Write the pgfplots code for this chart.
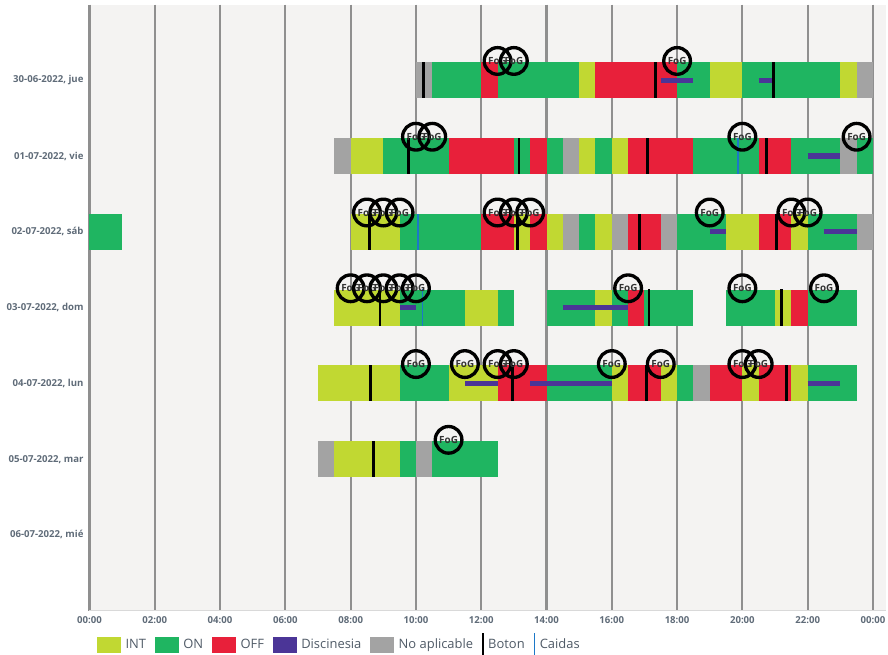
\documentclass[border=0pt]{standalone}
\usepackage{fontspec}
\setmainfont{Open Sans}
\usepackage{pgfplots}
\pgfplotsset{compat=1.18}
\definecolor{cINT}{HTML}{C1D832}
\definecolor{cON}{HTML}{1FB561}
\definecolor{cOFF}{HTML}{E8203A}
\definecolor{cDIS}{HTML}{4B3597}
\definecolor{cNA}{HTML}{A3A3A3}
\definecolor{cCAI}{HTML}{1C78C8}
\definecolor{cBG}{HTML}{F4F3F2}
\definecolor{cGRID}{HTML}{8F8F8F}
\definecolor{cLAB}{HTML}{5F6B78}
\definecolor{cLEG}{HTML}{4F5A66}
\newcommand\seg[4]{\addplot[#1,line width=27.15pt,line cap=butt,forget plot] coordinates {(#3,#2) (#4,#2)};}
\newcommand\dis[3]{\addplot[cDIS,line width=3.9pt,line cap=butt,forget plot] coordinates {(#2,#1) (#3,#1)};}
\begin{document}
\begin{tikzpicture}
\path[use as bounding box] (-67.125pt,-33.225pt) rectangle (598.875pt,458.025pt);
\begin{axis}[
  at={(0,0)},anchor=south west,
  scale only axis,width=597.375pt,height=454.65pt,
  xmin=0,xmax=24.4,ymin=-1,ymax=7,y dir=reverse,
  axis background/.style={fill=cBG},
  axis line style={-},
  axis x line*=bottom,
  x axis line style={draw=black!15,line width=0.8pt},
  y axis line style={draw=none},
  clip=false,
  xtick={0,2,...,24},
  xticklabels={00:00,02:00,04:00,06:00,08:00,10:00,12:00,14:00,16:00,18:00,20:00,22:00,00:00},
  ytick={0,1,2,3,4,5,6},
  yticklabels={{30-06-2022, jue},{01-07-2022, vie},{02-07-2022, sáb},{03-07-2022, dom},{04-07-2022, lun},{05-07-2022, mar},{06-07-2022, mié}},
  major tick length=0pt,
  xmajorgrids,
  grid style={cGRID,line width=1.6pt},
  x tick label style={font=\fontsize{7.2}{8}\selectfont\bfseries,text=cLAB,yshift=-1pt},
  y tick label style={font=\fontsize{7.2}{8}\selectfont\bfseries,text=cLAB,xshift=-1pt},
  legend columns=14,
  legend style={draw=none,fill=none,at={(0.0094,-0.0566)},anchor=west,
    font=\fontsize{9.7}{11}\selectfont,text=cLEG,inner sep=0pt,
    /tikz/every even column/.append style={column sep=4.8pt},
    /tikz/every odd column/.append style={column sep=1.2pt}},
]
\pgfplotsset{
  sq/.style={legend image code/.code={\fill[draw=none,##1] (0pt,-6pt) rectangle (18pt,6pt);}},
  vl/.style={legend image code/.code={\draw[##1,line width=1.3pt] (0pt,-9pt) -- (0pt,9pt);}},
}
\addlegendimage{sq,fill=cINT}\addlegendentry{INT}
\addlegendimage{sq,fill=cON}\addlegendentry{ON}
\addlegendimage{sq,fill=cOFF}\addlegendentry{OFF}
\addlegendimage{sq,fill=cDIS}\addlegendentry{Discinesia}
\addlegendimage{sq,fill=cNA}\addlegendentry{No aplicable}
\addlegendimage{vl,draw=black}\addlegendentry{Boton}
\addlegendimage{vl,color=cCAI}\addlegendentry{Caidas}
% row 0
\seg{cNA}{0}{10}{10.5}\seg{cON}{0}{10.5}{12}\seg{cOFF}{0}{12}{12.5}\seg{cON}{0}{12.5}{15}
\seg{cINT}{0}{15}{15.5}\seg{cOFF}{0}{15.5}{18}\seg{cON}{0}{18}{19}\seg{cINT}{0}{19}{20}
\seg{cON}{0}{20}{23}\seg{cINT}{0}{23}{23.5}\seg{cNA}{0}{23.5}{24}
% row 1
\seg{cNA}{1}{7.5}{8}\seg{cINT}{1}{8}{9}\seg{cON}{1}{9}{11}\seg{cOFF}{1}{11}{13}\seg{cON}{1}{13}{13.5}
\seg{cOFF}{1}{13.5}{14}\seg{cON}{1}{14}{14.5}\seg{cNA}{1}{14.5}{15}\seg{cINT}{1}{15}{15.5}\seg{cON}{1}{15.5}{16}
\seg{cINT}{1}{16}{16.5}\seg{cOFF}{1}{16.5}{18.5}\seg{cON}{1}{18.5}{20.5}\seg{cOFF}{1}{20.5}{21.5}
\seg{cON}{1}{21.5}{23}\seg{cNA}{1}{23}{23.5}\seg{cON}{1}{23.5}{24}
% row 2
\seg{cON}{2}{0}{1}\seg{cINT}{2}{8}{9.5}\seg{cON}{2}{9.5}{12}\seg{cOFF}{2}{12}{13}\seg{cINT}{2}{13}{13.5}
\seg{cOFF}{2}{13.5}{14}\seg{cINT}{2}{14}{14.5}\seg{cNA}{2}{14.5}{15}\seg{cON}{2}{15}{15.5}\seg{cINT}{2}{15.5}{16}
\seg{cNA}{2}{16}{16.5}\seg{cOFF}{2}{16.5}{17.5}\seg{cNA}{2}{17.5}{18}\seg{cON}{2}{18}{19.5}\seg{cINT}{2}{19.5}{20.5}
\seg{cOFF}{2}{20.5}{21.5}\seg{cINT}{2}{21.5}{22}\seg{cON}{2}{22}{23.5}\seg{cNA}{2}{23.5}{24}
% row 3
\seg{cINT}{3}{7.5}{9.5}\seg{cON}{3}{9.5}{11.5}\seg{cINT}{3}{11.5}{12.5}\seg{cON}{3}{12.5}{13}
\seg{cON}{3}{14}{15.5}\seg{cINT}{3}{15.5}{16}\seg{cON}{3}{16}{16.5}\seg{cOFF}{3}{16.5}{17}\seg{cON}{3}{17}{18.5}
\seg{cON}{3}{19.5}{21}\seg{cINT}{3}{21}{21.5}\seg{cOFF}{3}{21.5}{22}\seg{cON}{3}{22}{23.5}
% row 4
\seg{cINT}{4}{7}{9.5}\seg{cON}{4}{9.5}{11}\seg{cINT}{4}{11}{12.5}\seg{cOFF}{4}{12.5}{14}\seg{cON}{4}{14}{16}
\seg{cINT}{4}{16}{16.5}\seg{cOFF}{4}{16.5}{17.5}\seg{cINT}{4}{17.5}{18}\seg{cON}{4}{18}{18.5}\seg{cNA}{4}{18.5}{19}
\seg{cOFF}{4}{19}{20}\seg{cINT}{4}{20}{20.5}\seg{cOFF}{4}{20.5}{21.5}\seg{cINT}{4}{21.5}{22}\seg{cON}{4}{22}{23.5}
% row 5
\seg{cNA}{5}{7}{7.5}\seg{cINT}{5}{7.5}{9.5}\seg{cON}{5}{9.5}{10}\seg{cNA}{5}{10}{10.5}\seg{cON}{5}{10.5}{12.5}
% discinesia
\dis{0}{17.5}{18.5}\dis{0}{20.5}{21}\dis{1}{22}{23}\dis{2}{19}{19.5}\dis{2}{22.5}{23.5}
\dis{3}{9.5}{10}\dis{3}{14.5}{16.5}\dis{4}{11.5}{12.5}\dis{4}{13.5}{16}\dis{4}{22}{23}
% caidas
\addplot[draw=none,no markers,forget plot,error bars/.cd,y dir=both,y fixed=0.239,
  error mark=none,error bar style={cCAI,line width=1.4pt,line cap=butt}]
 table[row sep=\\]{
 x y\\
 19.86 1\\ 10.05 2\\ 10.2 3\\
 };
% boton
\addplot[draw=none,no markers,forget plot,error bars/.cd,y dir=both,y fixed=0.239,
  error mark=none,error bar style={black,line width=2.1pt,line cap=butt}]
 table[row sep=\\]{
 x y\\
 10.24 0\\ 17.35 0\\ 20.95 0\\
 9.77 1\\ 13.16 1\\ 17.1 1\\ 20.75 1\\
 8.57 2\\ 13.11 2\\ 16.86 2\\ 21.05 2\\
 8.9 3\\ 17.14 3\\ 21.2 3\\
 8.6 4\\ 12.96 4\\ 17.07 4\\ 21.35 4\\
 8.7 5\\
 };
% FoG
\addplot[only marks,mark=o,mark size=10pt,mark options={black,line width=2.5pt},forget plot,
  nodes near coords={FoG},
  every node near coord/.append style={anchor=center,inner sep=0pt,text=black!80,font=\fontsize{7.4}{8}\selectfont\bfseries}]
 table[row sep=\\]{
 x y\\
 12.5 -0.255\\ 13 -0.255\\ 18 -0.255\\
 10 0.745\\ 10.5 0.745\\ 20 0.745\\ 23.5 0.745\\
 8.5 1.745\\ 9 1.745\\ 9.5 1.745\\ 12.5 1.745\\ 13 1.745\\ 13.5 1.745\\ 19 1.745\\ 21.5 1.745\\ 22 1.745\\
 8 2.745\\ 8.5 2.745\\ 9 2.745\\ 9.5 2.745\\ 10 2.745\\ 16.5 2.745\\ 20 2.745\\ 22.5 2.745\\
 10 3.745\\ 11.5 3.745\\ 12.5 3.745\\ 13 3.745\\ 16 3.745\\ 17.5 3.745\\ 20 3.745\\ 20.5 3.745\\
 11 4.745\\
 };
\end{axis}
\end{tikzpicture}
\end{document}
